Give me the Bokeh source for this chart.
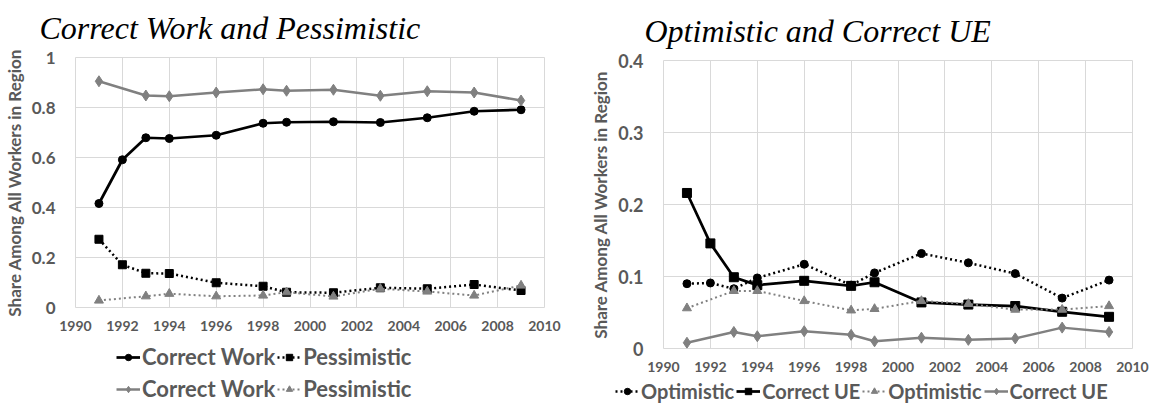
from bokeh.plotting import figure
from bokeh.models import Legend, LegendItem, FixedTicker, NumeralTickFormatter, Range1d
from bokeh.layouts import row, column
from bokeh.embed import file_html
from bokeh.resources import INLINE

# ---------------- data ----------------
years = [1991, 1992, 1993, 1994, 1996, 1998, 1999, 2001, 2003, 2005, 2007, 2009]
years_gray = [1991, 1993, 1994, 1996, 1998, 1999, 2001, 2003, 2005, 2007, 2009]

# left panel: Correct Work and Pessimistic
correct_work_black = [0.416, 0.591, 0.679, 0.676, 0.689, 0.737, 0.741, 0.743, 0.740, 0.759, 0.785, 0.791]
pessimistic_black = [0.273, 0.171, 0.137, 0.136, 0.099, 0.085, 0.061, 0.059, 0.079, 0.075, 0.092, 0.068]
correct_work_gray = [0.905, 0.848, 0.845, 0.860, 0.873, 0.867, 0.871, 0.847, 0.865, 0.860, 0.828]
pessimistic_gray = [0.028, 0.045, 0.055, 0.045, 0.048, 0.061, 0.044, 0.075, 0.064, 0.048, 0.088]

# right panel: Optimistic and Correct UE
optimistic_black = [0.090, 0.091, 0.083, 0.098, 0.117, 0.088, 0.105, 0.132, 0.119, 0.104, 0.070, 0.095]
correct_ue_black = [0.216, 0.146, 0.099, 0.088, 0.094, 0.087, 0.092, 0.064, 0.061, 0.059, 0.051, 0.044]
optimistic_gray = [0.056, 0.080, 0.080, 0.066, 0.053, 0.055, 0.066, 0.062, 0.054, 0.054, 0.059]
correct_ue_gray = [0.008, 0.023, 0.017, 0.024, 0.019, 0.010, 0.015, 0.012, 0.014, 0.029, 0.023]

x_ticks = list(range(1990, 2011, 2))
left_y_ticks = [0, 0.2, 0.4, 0.6, 0.8, 1.0]
right_y_ticks = [0, 0.1, 0.2, 0.3, 0.4]

left_title = "Correct Work and Pessimistic"
right_title = "Optimistic and Correct UE"
y_label = "Share Among All Workers in Region"

TXT = "#595959"
GRID = "#d9d9d9"
BLACK = "#000000"
GRAY = "#808080"
FONT = "Lato"

# series styles: (color, marker, size, dash, width)
ST_CW_B = (BLACK, "circle", 8, "solid", 2.75)
ST_PE_B = (BLACK, "square", 8, "2 3", 2.5)
ST_CW_G = (GRAY, "diamond", 11, "solid", 2.5)
ST_PE_G = (GRAY, "triangle", 9, "2 3", 2)
ST_OP_B = (BLACK, "circle", 8, "2 3", 2.5)
ST_UE_B = (BLACK, "square", 9, "solid", 2.75)
ST_OP_G = (GRAY, "triangle", 9, "2 3", 2)
ST_UE_G = (GRAY, "diamond", 11, "solid", 2.5)


def chart_fig(title, toffset, ymax, yticks, ylab_size, ml, mr, mt, mb, fh):
    p = figure(frame_width=469, frame_height=fh, output_backend="svg",
               toolbar_location=None,
               x_range=Range1d(1990, 2010), y_range=Range1d(0, ymax),
               min_border_left=ml, min_border_right=mr,
               min_border_top=mt, min_border_bottom=mb)
    p.title.text = title
    p.title.text_font = "Liberation Serif"
    p.title.text_font_style = "italic"
    p.title.text_font_size = "32px"
    p.title.text_color = "black"
    p.title.align = "left"
    p.title.vertical_align = "top"
    p.title.offset = toffset
    p.title.standoff = 19
    p.outline_line_color = GRID
    p.background_fill_color = "white"
    p.border_fill_color = "white"
    p.xaxis.ticker = FixedTicker(ticks=x_ticks)
    p.yaxis.ticker = FixedTicker(ticks=yticks)
    p.xgrid.ticker = FixedTicker(ticks=x_ticks)
    p.ygrid.ticker = FixedTicker(ticks=yticks)
    p.xgrid.grid_line_color = GRID
    p.ygrid.grid_line_color = GRID
    p.xaxis.formatter = NumeralTickFormatter(format="0")
    p.yaxis.formatter = NumeralTickFormatter(format="0.[0]")
    for ax in (p.xaxis[0], p.yaxis[0]):
        ax.axis_line_color = None
        ax.major_tick_line_color = None
        ax.minor_tick_line_color = None
        ax.major_tick_out = 0
        ax.major_tick_in = 0
        ax.major_label_text_font = FONT
        ax.major_label_text_font_style = "bold"
        ax.major_label_text_color = TXT
    p.xaxis.major_label_text_font_size = "14px"
    p.xaxis.major_label_standoff = 13
    p.yaxis.major_label_text_font_size = ylab_size
    p.yaxis.major_label_standoff = 20
    p.yaxis.axis_label = y_label
    p.yaxis.axis_label_text_font = FONT
    p.yaxis.axis_label_text_font_style = "bold"
    p.yaxis.axis_label_text_font_size = "17px"
    p.yaxis.axis_label_text_color = TXT
    p.yaxis.axis_label_standoff = 4
    return p


def blank_fig(w, h):
    f = figure(width=w, height=h, output_backend="svg", toolbar_location=None,
               x_axis_type=None, y_axis_type=None, title_location=None,
               x_range=Range1d(0, 1), y_range=Range1d(0, 1),
               min_border_left=0, min_border_right=0,
               min_border_top=0, min_border_bottom=0)
    f.outline_line_color = None
    f.background_fill_color = "white"
    f.border_fill_color = "white"
    return f


def series(p, xs, ys, st):
    color, marker, size, dash, width = st
    r_line = p.line(xs, ys, line_color=color, line_width=width, line_dash=dash)
    r_pt = p.scatter(xs, ys, marker=marker, size=size, fill_color=color, line_color=color)
    return [r_line, r_pt]


def make_legend(items, font_size, loc):
    return Legend(items=items, orientation="horizontal", location=loc,
                  border_line_color=None, background_fill_alpha=0,
                  label_text_font=FONT, label_text_font_style="bold",
                  label_text_font_size=font_size, label_text_color=TXT,
                  glyph_width=24, glyph_height=16, label_height=16,
                  label_standoff=2, spacing=2, padding=0, margin=0)


hid = [-5]  # legend proxy glyphs sit outside the visible range

# ---------------- left column ----------------
p1 = chart_fig(left_title, -36, 1, left_y_ticks, "17px", 71, 40, 57, 36, 250)
series(p1, years, correct_work_black, ST_CW_B)
series(p1, years, pessimistic_black, ST_PE_B)
series(p1, years_gray, correct_work_gray, ST_CW_G)
series(p1, years_gray, pessimistic_gray, ST_PE_G)

l1 = blank_fig(580, 60)
lg1 = make_legend([LegendItem(label="Correct Work", renderers=series(l1, hid, hid, ST_CW_B)),
                   LegendItem(label="Pessimistic", renderers=series(l1, hid, hid, ST_PE_B))],
                  "22px", (41, 33))
lg2 = make_legend([LegendItem(label="Correct Work", renderers=series(l1, hid, hid, ST_CW_G)),
                   LegendItem(label="Pessimistic", renderers=series(l1, hid, hid, ST_PE_G))],
                  "22px", (41, 1))
l1.add_layout(lg1, "center")
l1.add_layout(lg2, "center")

# ---------------- right column ----------------
p2 = chart_fig(right_title, -19, 0.4, right_y_ticks, "18px", 79, 18, 60, 32, 288)
series(p2, years, optimistic_black, ST_OP_B)
series(p2, years, correct_ue_black, ST_UE_B)
series(p2, years_gray, optimistic_gray, ST_OP_G)
series(p2, years_gray, correct_ue_gray, ST_UE_G)

l2 = blank_fig(566, 23)
l2.frame_align = False
lg3 = make_legend([LegendItem(label="Optimistic", renderers=series(l2, hid, hid, ST_OP_B)),
                   LegendItem(label="Correct UE", renderers=series(l2, hid, hid, ST_UE_B)),
                   LegendItem(label="Optimistic", renderers=series(l2, hid, hid, ST_OP_G)),
                   LegendItem(label="Correct UE", renderers=series(l2, hid, hid, ST_UE_G))],
                  "20px", (31, 0))
l2.add_layout(lg3, "center")

layout = row(column(p1, l1), column(p2, l2))
open("out.html", "w").write(file_html(layout, INLINE))
